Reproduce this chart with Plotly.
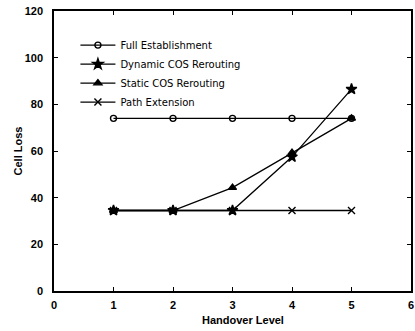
import plotly.graph_objects as go

handover_level = [1, 2, 3, 4, 5]
full_establishment = [74, 74, 74, 74, 74]
dynamic_cos = [34.5, 34.5, 34.5, 57.5, 86.5]
static_cos = [34.5, 34.5, 44.3, 59.3, 74]
path_extension = [34.5, 34.5, 34.5, 34.5, 34.5]

x_ticks = [0, 1, 2, 3, 4, 5, 6]
y_ticks = [0, 20, 40, 60, 80, 100, 120]

FONT = "Liberation Sans, Arial, sans-serif"
LFONT = "DejaVu Sans, sans-serif"

fig = go.Figure()
series = [
    ("Full Establishment", full_establishment, "circle-open", 6),
    ("Dynamic COS Rerouting", dynamic_cos, "star", 8),
    ("Static COS Rerouting", static_cos, "triangle-up", 7),
    ("Path Extension", path_extension, "x-thin-open", 7),
]
for name, vals, sym, sz in series:
    fig.add_trace(go.Scatter(
        x=handover_level, y=vals, name=name, mode="lines+markers",
        line=dict(color="black", width=1.3),
        marker=dict(symbol=sym, size=sz, color="black",
                    line=dict(color="black", width=1.4)),
    ))

axis_common = dict(
    showline=True, linecolor="black", linewidth=1.5, mirror="ticks",
    ticks="inside", ticklen=4, tickcolor="black", tickwidth=1,
    showgrid=False, zeroline=False,
    tickfont=dict(family=FONT, size=11, color="black", weight="bold"),
)

fig.update_xaxes(range=[0, 6], tickvals=x_ticks, ticklabelstandoff=3, **axis_common)
fig.update_yaxes(range=[0, 120], tickvals=y_ticks, ticklabelstandoff=7,
                 title=dict(text="Cell Loss", standoff=0,
                            font=dict(family=FONT, size=11, color="black", weight="bold")),
                 **axis_common)

fig.add_annotation(text="Handover Level", xref="paper", yref="paper",
                   x=0.529, y=-0.1036, xanchor="center", yanchor="middle",
                   showarrow=False,
                   font=dict(family=FONT, size=11, color="black", weight="bold"))

fig.update_layout(
    width=415, height=331,
    margin=dict(l=54, r=2, t=11, b=40),
    paper_bgcolor="white", plot_bgcolor="white",
    showlegend=True,
    legend=dict(x=0.06, y=0.93, xanchor="left", yanchor="top",
                bgcolor="rgba(0,0,0,0)", itemwidth=35,
                font=dict(family=LFONT, size=10, color="black")),
)

fig.write_html("out.html")
